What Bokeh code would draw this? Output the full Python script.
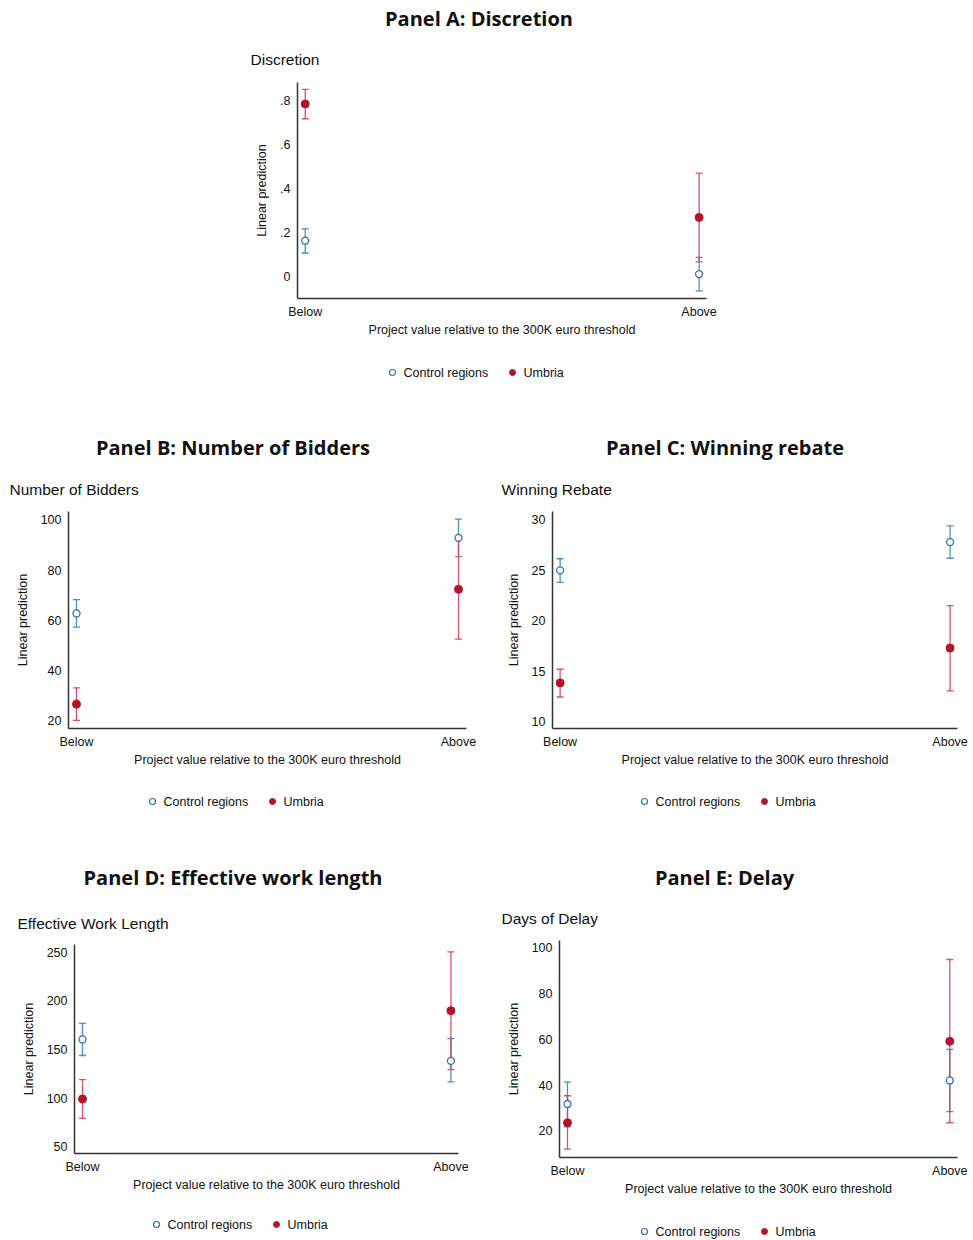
from bokeh.plotting import figure
from bokeh.models import Range1d, FixedTicker, Whisker, TeeHead, ColumnDataSource
from bokeh.core.properties import value
from bokeh.layouts import column, row
from bokeh.embed import file_html
from bokeh.resources import INLINE

# ---------------- data ----------------
categories = ["Below", "Above"]
series_names = ["Control regions", "Umbria"]
x_title = "Project value relative to the 300K euro threshold"
y_title = "Linear prediction"
panel_titles = ["Panel A: Discretion", "Panel B: Number of Bidders", "Panel C: Winning rebate",
                "Panel D: Effective work length", "Panel E: Delay"]
panel_subtitles = ["Discretion", "Number of Bidders", "Winning Rebate",
                   "Effective Work Length", "Days of Delay"]

# Panel A: Discretion
a_ctrl = [0.163, 0.011]
a_ctrl_lo = [0.107, -0.065]
a_ctrl_hi = [0.217, 0.087]
a_umb = [0.785, 0.269]
a_umb_lo = [0.718, 0.067]
a_umb_hi = [0.852, 0.471]
a_ticks = [0, 0.2, 0.4, 0.6, 0.8]
a_tick_labels = ["0", ".2", ".4", ".6", ".8"]

# Panel B: Number of Bidders
b_ctrl = [62.7, 92.8]
b_ctrl_lo = [57.3, 85.3]
b_ctrl_hi = [68.2, 100.3]
b_umb = [26.6, 72.3]
b_umb_lo = [20.1, 52.5]
b_umb_hi = [33.1, 92.2]
b_ticks = [20, 40, 60, 80, 100]
b_tick_labels = ["20", "40", "60", "80", "100"]

# Panel C: Winning rebate
c_ctrl = [25.0, 27.8]
c_ctrl_lo = [23.8, 26.2]
c_ctrl_hi = [26.15, 29.4]
c_umb = [13.85, 17.3]
c_umb_lo = [12.45, 13.05]
c_umb_hi = [15.2, 21.5]
c_ticks = [10, 15, 20, 25, 30]
c_tick_labels = ["10", "15", "20", "25", "30"]

# Panel D: Effective work length
d_ctrl = [160.3, 138.3]
d_ctrl_lo = [143.8, 116.7]
d_ctrl_hi = [176.8, 161.3]
d_umb = [99.2, 189.9]
d_umb_lo = [79.2, 129.4]
d_umb_hi = [119.1, 250.3]
d_ticks = [50, 100, 150, 200, 250]
d_tick_labels = ["50", "100", "150", "200", "250"]

# Panel E: Delay
e_ctrl = [31.7, 42.0]
e_ctrl_lo = [21.7, 28.4]
e_ctrl_hi = [41.3, 55.6]
e_umb = [23.5, 59.1]
e_umb_lo = [12.0, 23.5]
e_umb_hi = [35.3, 94.9]
e_ticks = [20, 40, 60, 80, 100]
e_tick_labels = ["20", "40", "60", "80", "100"]

# ---------------- style ----------------
BLUE = "#2f6fbd"
BLUE_BAR = "#3f7fc6"
RED = "#b5122b"
RED_BAR = "#cf4257"
INK = "#111111"
SANS = "Liberation Sans"
TITLE_FONT = "Open Sans"
SMALL = "12.5px"
PAGE_W = 973


def no_align(fig):
    if "frame_align" in fig.properties():
        fig.frame_align = False
    return fig


def text_strip(height):
    """A plain drawing area (no axes) whose units are pixels, y pointing down."""
    s = figure(width=PAGE_W, height=height, output_backend="svg", toolbar_location=None,
               x_range=Range1d(0, PAGE_W), y_range=Range1d(height, 0),
               x_axis_location=None, y_axis_location=None, min_border=0)
    s.outline_line_color = None
    s.xgrid.visible = False
    s.ygrid.visible = False
    s.background_fill_color = "white"
    s.border_fill_color = "white"
    return no_align(s)


def add_titles(s, top, idx, title_cx, title_cy, sub_left, sub_cy):
    s.text(x=[title_cx], y=[title_cy - top], text=[panel_titles[idx]],
           text_font=value(TITLE_FONT), text_font_style="bold",
           text_font_size=value("20px"), text_color=INK,
           text_align="center", text_baseline="middle")
    s.text(x=[sub_left], y=[sub_cy - top], text=[panel_subtitles[idx]],
           text_font=value(SANS), text_font_size=value("15.5px"), text_color=INK,
           text_align="left", text_baseline="middle")


def add_legend(s, top, mx, cy):
    y = cy - top
    s.scatter(x=[mx], y=[y], marker="circle", size=6, fill_color="white",
              line_color=BLUE, line_width=1.2)
    s.scatter(x=[mx + 120], y=[y], marker="circle", size=6, fill_color=RED,
              line_color=RED, line_width=1)
    s.text(x=[mx + 11, mx + 131], y=[y, y], text=series_names,
           text_font=value(SANS), text_font_size=value(SMALL), text_color=INK,
           text_align="left", text_baseline="middle")


def make_plot(section, frame, xr, yr, ticks, tick_labels, ctrl, ctrl_lo, ctrl_hi,
              umb, umb_lo, umb_hi):
    sx0, sy0, sx1, sy1 = section
    fl, ft, fr, fb = frame
    p = figure(width=sx1 - sx0, height=sy1 - sy0, output_backend="svg",
               toolbar_location=None, title=None,
               x_range=Range1d(*xr), y_range=Range1d(*yr),
               min_border_left=round(fl - sx0), min_border_right=round(sx1 - fr),
               min_border_top=round(ft - sy0), min_border_bottom=round(sy1 - fb))
    p.outline_line_color = None
    p.xgrid.visible = False
    p.ygrid.visible = False
    p.background_fill_color = "white"
    p.border_fill_color = "white"

    xs = list(range(len(categories)))
    for ax in (p.xaxis[0], p.yaxis[0]):
        ax.axis_line_color = "#333333"
        ax.axis_line_width = 1.5
        ax.major_tick_in = 0
        ax.major_tick_out = 0
        ax.minor_tick_in = 0
        ax.minor_tick_out = 0
        ax.major_label_text_font = SANS
        ax.major_label_text_font_size = SMALL
        ax.major_label_text_color = INK
        ax.axis_label_text_font = SANS
        ax.axis_label_text_font_size = SMALL
        ax.axis_label_text_font_style = "normal"
        ax.axis_label_text_color = INK
    p.xaxis.ticker = FixedTicker(ticks=xs)
    p.xaxis.major_label_overrides = {i: c for i, c in enumerate(categories)}
    p.xaxis.axis_label = x_title
    p.xaxis.major_label_standoff = 6
    p.xaxis.axis_label_standoff = 1
    p.yaxis.ticker = FixedTicker(ticks=ticks)
    p.yaxis.major_label_overrides = {t: l for t, l in zip(ticks, tick_labels)}
    p.yaxis.axis_label = y_title
    p.yaxis.major_label_standoff = 7
    p.yaxis.axis_label_standoff = 8

    for lo, hi, col in ((ctrl_lo, ctrl_hi, BLUE_BAR), (umb_lo, umb_hi, RED_BAR)):
        src = ColumnDataSource(dict(x=xs, lo=lo, hi=hi))
        p.add_layout(Whisker(base="x", lower="lo", upper="hi", source=src, dimension="height",
                             line_color=col, line_width=1.3, line_alpha=0.9,
                             upper_head=TeeHead(size=7, line_color=col, line_width=1.3, line_alpha=0.9),
                             lower_head=TeeHead(size=7, line_color=col, line_width=1.3, line_alpha=0.9)))

    p.scatter(xs, ctrl, marker="circle", size=7, fill_color="white",
              line_color=BLUE, line_width=1.3)
    p.scatter(xs, umb, marker="circle", size=8, fill_color=RED,
              line_color=RED, line_width=1)
    return no_align(p)


# strip 0: header of panel A
s0_top, s0_bot = 0, 72
s0 = text_strip(s0_bot - s0_top)
add_titles(s0, s0_top, 0, 478.5, 18, 250, 59)

pA = make_plot((0, 72, 973, 350), (297.3, 81.7, 705.7, 297.7),
               (-0.0196, 1.0188), (-0.1, 0.883), a_ticks, a_tick_labels,
               a_ctrl, a_ctrl_lo, a_ctrl_hi, a_umb, a_umb_lo, a_umb_hi)

# strip 1: legend A, headers B and C
s1_top, s1_bot = 350, 500
s1 = text_strip(s1_bot - s1_top)
add_legend(s1, s1_top, 392, 372)
add_titles(s1, s1_top, 1, 232.5, 447, 9, 489)
add_titles(s1, s1_top, 2, 724.5, 447, 501, 489)

pB = make_plot((0, 500, 489, 780), (67.7, 510.7, 465.7, 727.7),
               (-0.0209, 1.0209), (16.9, 103.3), b_ticks, b_tick_labels,
               b_ctrl, b_ctrl_lo, b_ctrl_hi, b_umb, b_umb_lo, b_umb_hi)
pC = make_plot((489, 500, 973, 780), (551.7, 510.7, 956.7, 727.7),
               (-0.0195, 1.019), (9.33, 30.83), c_ticks, c_tick_labels,
               c_ctrl, c_ctrl_lo, c_ctrl_hi, c_umb, c_umb_lo, c_umb_hi)

# strip 2: legends B and C, headers D and E
s2_top, s2_bot = 780, 935
s2 = text_strip(s2_bot - s2_top)
add_legend(s2, s2_top, 152, 801)
add_legend(s2, s2_top, 644, 801)
add_titles(s2, s2_top, 3, 232.5, 877, 17, 923)
add_titles(s2, s2_top, 4, 724, 877, 501, 918)

pD = make_plot((0, 935, 489, 1205), (73.7, 944.3, 458.3, 1152.7),
               (-0.0217, 1.0206), (43.1, 257.9), d_ticks, d_tick_labels,
               d_ctrl, d_ctrl_lo, d_ctrl_hi, d_umb, d_umb_lo, d_umb_hi)
pE = make_plot((489, 935, 973, 1205), (559, 940.3, 956.7, 1157),
               (-0.0209, 1.0202), (8.3, 103.2), e_ticks, e_tick_labels,
               e_ctrl, e_ctrl_lo, e_ctrl_hi, e_umb, e_umb_lo, e_umb_hi)

# strip 3: legends D and E
s3_top, s3_bot = 1205, 1240
s3 = text_strip(s3_bot - s3_top)
add_legend(s3, s3_top, 156, 1224)
add_legend(s3, s3_top, 644, 1231)

layout = column(row(s0, spacing=0), row(pA, spacing=0), row(s1, spacing=0),
                row(pB, pC, spacing=0), row(s2, spacing=0),
                row(pD, pE, spacing=0), row(s3, spacing=0), spacing=0)

open("out.html", "w").write(file_html(layout, INLINE))
